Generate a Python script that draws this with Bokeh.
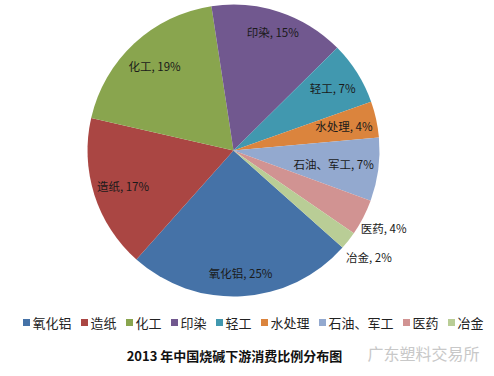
import numpy as np
from bokeh.plotting import figure
from bokeh.models import Range1d, ColumnDataSource
from bokeh.core.properties import value
from bokeh.embed import file_html
from bokeh.resources import INLINE

# ---- data ----
categories = ["氧化铝", "造纸", "化工", "印染", "轻工", "水处理", "石油、军工", "医药", "冶金"]
shares = [25, 17, 19, 15, 7, 4, 7, 4, 2]
colors = ["#4572A7", "#AA4643", "#89A54E", "#71588F", "#4198AF",
          "#DB843D", "#93A9CF", "#D19392", "#B9CD96"]
title_text = "2013 年中国烧碱下游消费比例分布图"
watermark_text = "广东塑料交易所"

# ---- layout ----
W, H = 494, 376
FONT = "Noto Sans CJK SC"
cx, cy, r = 233, H - 150, 146
start_bearing = 131.7          # degrees clockwise from 12 o'clock
label_dist = [123, 116, 116, 125, 117, 113, 101, 169, 172]

p = figure(width=W, height=H, x_range=Range1d(0, W), y_range=Range1d(0, H),
           output_backend="svg", toolbar_location=None, min_border=0)
p.axis.visible = False
p.grid.visible = False
p.outline_line_color = None
p.background_fill_color = "white"
p.border_fill_color = "white"

vals = np.array(shares, dtype=float)
frac = vals / vals.sum()
cum = np.cumsum(frac)
sb = start_bearing + 360 * (cum - frac)
eb = start_bearing + 360 * cum
mb = (sb + eb) / 2

src = ColumnDataSource(dict(
    start=np.radians(90 - sb), end=np.radians(90 - eb), color=colors))
p.wedge(x=cx, y=cy, radius=r, start_angle="start", end_angle="end",
        direction="clock", fill_color="color", line_color=None, source=src)

# slice labels
lx = cx + np.array(label_dist) * np.sin(np.radians(mb))
ly = cy + np.array(label_dist) * np.cos(np.radians(mb))
labels = [f"{c}, {s}%" for c, s in zip(categories, shares)]
p.text(x=lx, y=ly, text=labels, text_align="center", text_baseline="middle",
       text_font=value(FONT), text_font_size="11.5px", text_color="#1a1a1a")

# legend (manual, horizontal)
char_w = 13
x0 = 23
leg_y = H - 322
xs = []
x = x0
for c in categories:
    xs.append(x)
    x += 19 + char_w * len(c)
xs = np.array(xs, dtype=float)
p.rect(x=xs + 3, y=leg_y, width=7, height=7, fill_color=colors, line_color=None)
p.text(x=xs + 9, y=leg_y, text=categories, text_align="left", text_baseline="middle",
       text_font=value(FONT), text_font_size="13px", text_color="#222222")

# title
p.text(x=[234], y=[H - 355], text=[title_text], text_align="center",
       text_baseline="middle", text_font=value(FONT), text_font_size="13px",
       text_font_style="bold", text_color="#111111")

# watermark
p.text(x=[367], y=[H - 352], text=[watermark_text], text_align="left",
       text_baseline="middle", text_font=value(FONT), text_font_size="16px",
       text_color="#c8c8c8")

open("out.html", "w").write(file_html(p, INLINE))
